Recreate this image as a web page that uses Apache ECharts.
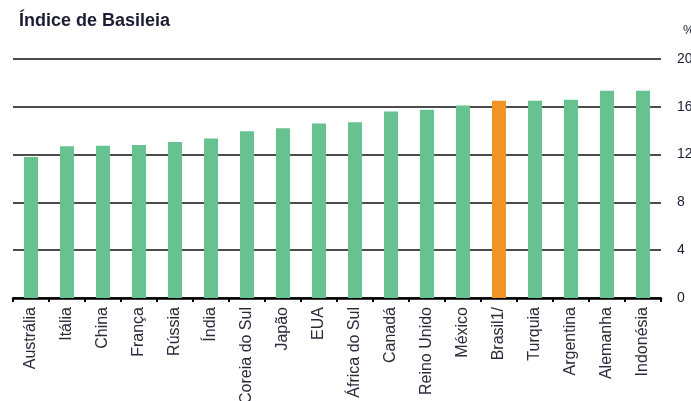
<!DOCTYPE html>
<html>
<head>
<meta charset="utf-8">
<script src="https://cdn.jsdelivr.net/npm/echarts@6/dist/echarts.min.js"></script>
<style>html,body{margin:0;padding:0;background:#fff}#c{width:691px;height:401px}</style>
</head>
<body>
<div id="c"></div>
<script>
const categories = ['Austrália','Itália','China','França','Rússia','Índia','Coreia do Sul','Japão','EUA','África do Sul','Canadá','Reino Unido','México','Brasil1/','Turquia','Argentina','Alemanha','Indonésia'];
const values = [11.8, 12.7, 12.75, 12.8, 13.05, 13.35, 13.95, 14.2, 14.6, 14.7, 15.6, 15.75, 16.1, 16.5, 16.5, 16.6, 17.35, 17.35];
const highlight = 'Brasil1/';
const yTicks = {min: 0, max: 20, interval: 4};

const chart = echarts.init(document.getElementById('c'));
chart.setOption({
  animation: false,
  backgroundColor: '#fff',
  title: {
    text: 'Índice de Basileia', left: 14, top: 7,
    textStyle: {fontFamily: 'Liberation Sans, Arial, sans-serif', fontSize: 18, fontWeight: 'bold', color: '#1b1d33'}
  },
  graphic: [{
    type: 'text', left: 683, top: 24,
    style: {text: '%', font: '13px "Liberation Sans", Arial, sans-serif', fill: '#1b1d33'}
  }],
  grid: {left: 13, right: 30, top: 59, bottom: 103, containLabel: false, outerBoundsMode: 'none'},
  xAxis: {
    type: 'category', data: categories,
    axisLine: {lineStyle: {color: '#000', width: 2.5}},
    axisTick: {show: true, length: 4, lineStyle: {color: '#000', width: 2}},
    axisLabel: {rotate: 90, margin: 9, interval: 0, fontFamily: 'Liberation Sans, Arial, sans-serif', fontSize: 16, color: '#2a2a3a'}
  },
  yAxis: {
    type: 'value', position: 'right', min: yTicks.min, max: yTicks.max, interval: yTicks.interval,
    axisLine: {show: false}, axisTick: {show: false},
    splitLine: {lineStyle: {color: '#111', width: 1.5}},
    axisLabel: {margin: 16, fontFamily: 'Liberation Sans, Arial, sans-serif', fontSize: 14, color: '#1b1d33'}
  },
  series: [{
    type: 'bar', barWidth: 14,
    data: values.map((v, i) => ({value: v, itemStyle: {color: categories[i] === highlight ? '#f29425' : '#66c28f'}}))
  }]
});
</script>
</body>
</html>
